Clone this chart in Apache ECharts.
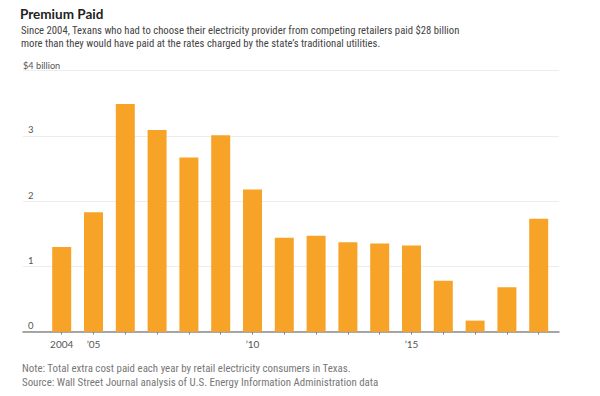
<!DOCTYPE html>
<html>
<head>
<meta charset="utf-8">
<script src="https://cdn.jsdelivr.net/npm/echarts@6/dist/echarts.min.js"></script>
<style>
html,body{margin:0;padding:0;background:#fff;}
#chart{width:600px;height:396px;}
</style>
</head>
<body>
<div id="chart"></div>
<script>
// Data
var years = ['2004','2005','2006','2007','2008','2009','2010','2011','2012','2013','2014','2015','2016','2017','2018','2019'];
var premium = [1.30, 1.83, 3.49, 3.09, 2.67, 3.01, 2.18, 1.44, 1.47, 1.37, 1.35, 1.32, 0.78, 0.17, 0.68, 1.73];
var xTickLabels = {'2004':'2004','2005':'\u201905','2010':'\u201910','2015':'\u201915'};
var yTickLabels = {0:'0',1:'1',2:'2',3:'3',4:'$4 billion'};

var FONT = 'Lato';
var NARROW = '"Roboto Condensed", Lato';
var chart = echarts.init(document.getElementById('chart'), null, {renderer:'svg'});
var option = {
  animation: false,
  textStyle: {fontFamily: FONT},
  title: [
    {text: 'Premium Paid', left: 20, top: 6, padding: 0,
     textStyle: {fontFamily: FONT, fontSize: 13.5, fontWeight: 'bold', color: '#222', lineHeight: 16}},
    {text: 'Since 2004, Texans who had to choose their electricity provider from competing retailers paid $28 billion\nmore than they would have paid at the rates charged by the state\u2019s traditional utilities.',
     left: 21, top: 24, padding: 0,
     textStyle: {fontFamily: NARROW, fontSize: 10.7, fontWeight: 'normal', color: '#444', lineHeight: 13.3}},
    {text: 'Note: Total extra cost paid each year by retail electricity consumers in Texas.\nSource: Wall Street Journal analysis of U.S. Energy Information Administration data',
     left: 22, top: 361.3, padding: 0,
     textStyle: {fontFamily: NARROW, fontSize: 10.9, fontWeight: 'normal', color: '#777', lineHeight: 14}}
  ],
  grid: [
    {left: 23, right: 41, top: 70.7, bottom: 64.3},
    {left: 45.8, right: 45.4, top: 70.7, bottom: 64.3}
  ],
  xAxis: [
    {gridIndex: 0, type: 'value', min: 0, max: 1,
     axisLine: {show: true, onZero: false, lineStyle: {color: '#8a8a8a', width: 1.5}},
     axisTick: {show: false}, axisLabel: {show: false}, splitLine: {show: false}},
    {gridIndex: 1, type: 'category', data: years, boundaryGap: true,
     axisLine: {show: false},
     axisTick: {show: true, alignWithLabel: true, interval: 0, length: 3, lineStyle: {color: '#888'}},
     axisLabel: {interval: 0, margin: 7, fontFamily: FONT, fontSize: 10, color: '#555',
       formatter: function (v) { return xTickLabels[v] || ''; }},
     splitLine: {show: false}}
  ],
  yAxis: [
    {gridIndex: 0, type: 'value', min: 0, max: 4, interval: 1,
     axisLine: {show: false}, axisTick: {show: false},
     splitLine: {show: true, lineStyle: {color: '#ececec', width: 1}},
     axisLabel: {inside: true, margin: 0, verticalAlign: 'bottom', align: 'left',
       fontFamily: FONT, fontSize: 9.5, color: '#555', padding: [0, 0, 1, 0],
       formatter: function (v) {
         return v === 4 ? '{a|' + yTickLabels[v] + '}' : '{b|' + yTickLabels[v] + '}';
       },
       rich: {a: {fontFamily: FONT, fontSize: 9.2, color: '#555', padding: [0,0,0,0]},
              b: {fontFamily: FONT, fontSize: 9.5, color: '#555', padding: [0,0,0,5]}}}},
    {gridIndex: 1, type: 'value', min: 0, max: 4, interval: 1, show: false,
     splitLine: {show: false}}
  ],
  series: [
    {type: 'bar', xAxisIndex: 1, yAxisIndex: 1, data: premium, barWidth: 19,
     itemStyle: {color: '#F7A327'}, z: 1}
  ]
};
chart.setOption(option);
</script>
</body>
</html>
